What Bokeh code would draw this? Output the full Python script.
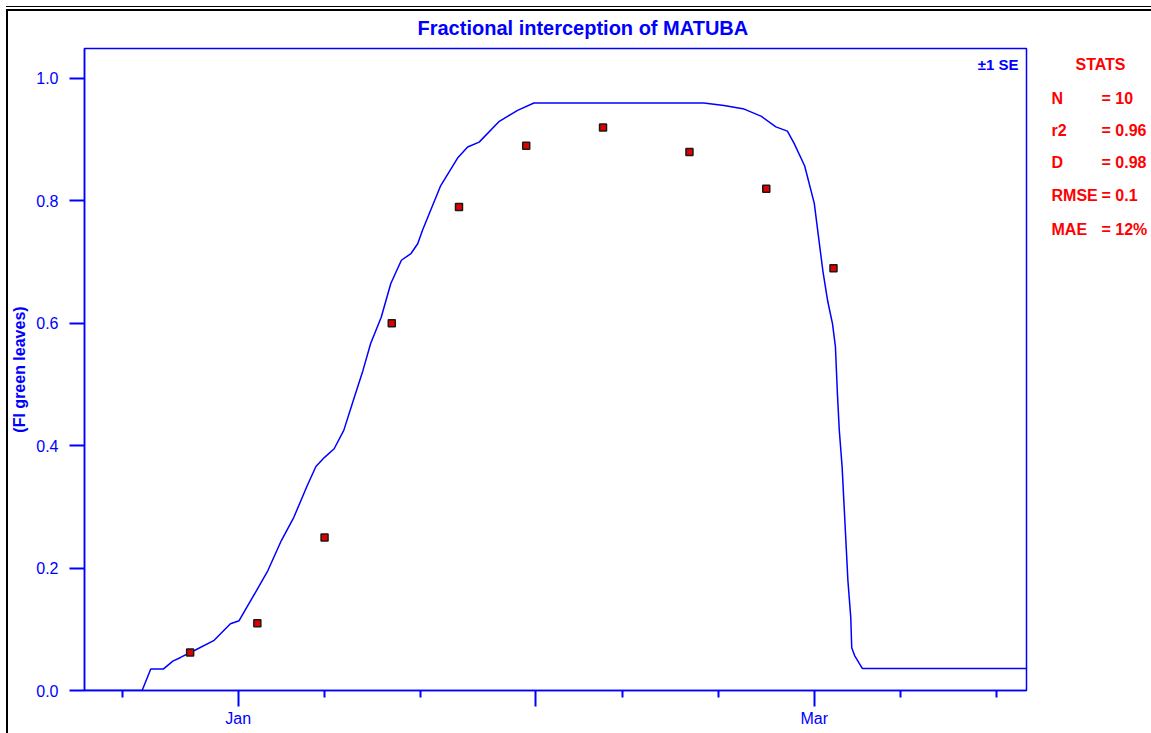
from bokeh.plotting import figure
from bokeh.layouts import row
from bokeh.models import (ColumnDataSource, FixedTicker, PrintfTickFormatter,
                          Label, Range1d, InlineStyleSheet)
from bokeh.core.properties import value
from bokeh.embed import file_html
from bokeh.resources import INLINE

# Days relative to 1 January (leap-year season, Dec -> Mar)
sim_day = [-16.0, -10.0, -9.1, -7.8, -6.8, -6.0, -4.6, -2.5, -0.8, 0.1, 1.5, 3.1,
           4.5, 5.8, 7.2, 8.1, 9.0, 10.0, 11.0, 12.1, 13.0, 13.8, 14.9, 15.9,
           17.0, 18.0, 18.7, 19.2, 19.9, 21.1, 22.9, 23.9, 25.1, 27.2, 29.1, 30.8,
           48.5, 50.6, 52.7, 54.5, 56.0, 57.2, 57.9, 59.0, 60.0, 60.5, 60.9, 61.4,
           61.9, 62.2, 62.4, 62.6, 62.9, 63.1, 63.3, 63.5, 63.8, 63.9, 64.2, 65.0, 82.1]
sim_fi = [0.0, 0.0, 0.035, 0.035, 0.048, 0.054, 0.065, 0.082, 0.109, 0.114, 0.152, 0.196,
          0.245, 0.283, 0.335, 0.366, 0.381, 0.395, 0.425, 0.479, 0.523, 0.567, 0.61, 0.665,
          0.703, 0.714, 0.73, 0.752, 0.779, 0.825, 0.871, 0.888, 0.896, 0.93, 0.948, 0.96,
          0.96, 0.956, 0.95, 0.938, 0.921, 0.914, 0.894, 0.857, 0.796, 0.734, 0.685, 0.636,
          0.599, 0.562, 0.488, 0.426, 0.365, 0.303, 0.242, 0.180, 0.119, 0.070, 0.057, 0.036, 0.036]

obs_day = [-5, 2, 9, 16, 23, 30, 38, 47, 55, 62]
obs_fi = [0.062, 0.11, 0.25, 0.60, 0.79, 0.89, 0.92, 0.88, 0.82, 0.69]

month_ticks = [0, 31, 60]
month_labels = ["Jan", "", "Mar"]
dekad_ticks = [-12, 9, 19, 40, 50, 69, 79]
fi_ticks = [0.0, 0.2, 0.4, 0.6, 0.8, 1.0]

stat_names = ["N", "r2", "D", "RMSE", "MAE"]
stat_values = ["= 10", "= 0.96", "= 0.98", "= 0.1", "= 12%"]

BLUE = "#0000ff"
RED = "#ff0000"
FONT = "Liberation Sans"

page_css = InlineStyleSheet(css="""
:host { position: relative; }
:host::before {
  content: ""; position: absolute; left: 6px; top: 6px; right: 0; height: 0;
  border-top: 1px solid #000; pointer-events: none; z-index: 10;
}
:host::after {
  content: ""; position: absolute; left: 6px; top: 9px; right: 0; bottom: 0;
  border-left: 2px solid #000; border-top: 2px solid #000;
  pointer-events: none; z-index: 10;
}
""")

MAIN_W = 1040
FRAME_TOP, FRAME_BOTTOM = 48, 690
p = figure(width=MAIN_W, height=733, output_backend="svg", toolbar_location=None,
           x_range=Range1d(-16, 82.1), y_range=Range1d(0, 1.049),
           min_border_left=84, min_border_right=MAIN_W - 1026,
           min_border_top=FRAME_TOP, min_border_bottom=733 - FRAME_BOTTOM,
           background_fill_color="white", border_fill_color="white",
           title="Fractional interception of MATUBA")

p.title.align = "left"
p.title.offset = 333
p.title.standoff = 20
p.title.text_color = BLUE
p.title.text_font = FONT
p.title.text_font_style = "bold"
p.title.text_font_size = "20px"

p.outline_line_color = BLUE
p.outline_line_width = 1.5
p.xgrid.visible = False
p.ygrid.visible = False

src_sim = ColumnDataSource(dict(x=sim_day, y=sim_fi))
src_obs = ColumnDataSource(dict(x=obs_day, y=obs_fi))
p.line("x", "y", source=src_sim, line_color=BLUE, line_width=1.5)
p.scatter("x", "y", source=src_obs, marker="square", size=7,
          fill_color="#e00000", line_color="#1a1a1a", line_width=1.5)

# x axis: months with dekad minor ticks
xa = p.xaxis[0]
xa.ticker = FixedTicker(ticks=month_ticks, minor_ticks=dekad_ticks)
xa.major_label_overrides = {t: lab for t, lab in zip(month_ticks, month_labels)}
xa.axis_line_color = BLUE
xa.axis_line_width = 1.5
xa.major_tick_line_color = BLUE
xa.minor_tick_line_color = BLUE
xa.major_tick_line_width = 2
xa.minor_tick_line_width = 2
xa.major_tick_out = 16
xa.major_tick_in = 0
xa.minor_tick_out = 7
xa.minor_tick_in = 0
xa.major_label_text_color = BLUE
xa.major_label_text_font = FONT
xa.major_label_text_font_size = "16px"
xa.major_label_standoff = 3

ya = p.yaxis[0]
ya.ticker = FixedTicker(ticks=fi_ticks)
ya.formatter = PrintfTickFormatter(format="%.1f")
ya.axis_line_color = BLUE
ya.axis_line_width = 1.5
ya.major_tick_line_color = BLUE
ya.major_tick_line_width = 2
ya.major_tick_out = 15
ya.major_tick_in = 0
ya.minor_tick_line_color = None
ya.major_label_text_color = BLUE
ya.major_label_text_font = FONT
ya.major_label_text_font_size = "16px"
ya.major_label_standoff = 11
ya.axis_label = "(FI green leaves)"
ya.axis_label_text_color = BLUE
ya.axis_label_text_font = FONT
ya.axis_label_text_font_style = "bold"
ya.axis_label_text_font_size = "16px"
ya.axis_label_standoff = 5

p.add_layout(Label(x=934, y=626, x_units="screen", y_units="screen",
                   text="±1 SE", text_align="right", text_baseline="middle",
                   text_color=BLUE, text_font=FONT, text_font_style="bold",
                   text_font_size="15px"))

# Statistics panel; its frame lines up with the main frame, so the y range
# is given in page pixels (growing downward) between the frame edges
SIDE_W = 1151 - MAIN_W
s = figure(width=SIDE_W, height=733, output_backend="svg", toolbar_location=None,
           x_range=Range1d(0, SIDE_W), y_range=Range1d(FRAME_BOTTOM, FRAME_TOP),
           x_axis_location=None, y_axis_location=None,
           min_border_left=0, min_border_right=0, min_border_top=FRAME_TOP,
           min_border_bottom=733 - FRAME_BOTTOM, outline_line_color=None,
           background_fill_color="white", border_fill_color="white")
s.xgrid.visible = False
s.ygrid.visible = False

stat_rows_y = [98, 130, 162, 195, 229]
s.text(x=[SIDE_W - 51], y=[64], text=["STATS"], text_align="center",
       text_baseline="middle", text_color=RED, text_font=value(FONT),
       text_font_style="bold", text_font_size="16px")
s.text(x=[11] * len(stat_names), y=stat_rows_y, text=stat_names,
       text_align="left", text_baseline="middle", text_color=RED,
       text_font=value(FONT), text_font_style="bold", text_font_size="16px")
s.text(x=[61] * len(stat_values), y=stat_rows_y, text=stat_values,
       text_align="left", text_baseline="middle", text_color=RED,
       text_font=value(FONT), text_font_style="bold", text_font_size="16px")

layout = row(p, s, spacing=0, stylesheets=[page_css])
open("out.html", "w").write(file_html(layout, INLINE))
